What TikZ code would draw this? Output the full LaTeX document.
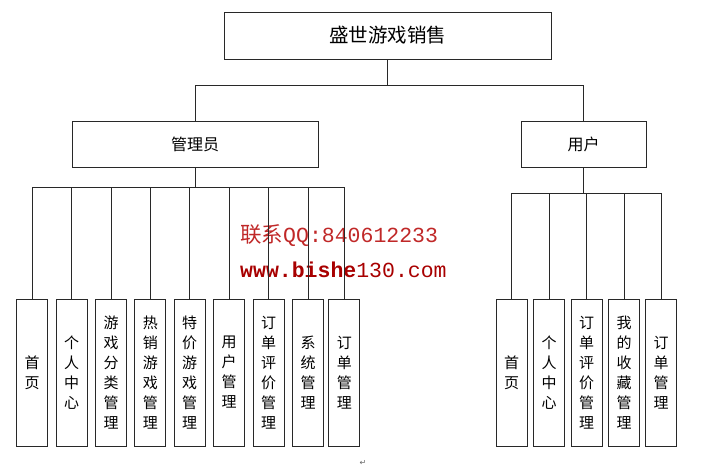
\documentclass[tikz,border=0pt]{standalone}
\usepackage{fontspec}
\newfontfamily\cjk{Noto Sans CJK SC}
\newfontfamily\wmono{Liberation Mono}
\newfontfamily\symf{DejaVu Sans}
\definecolor{wmred}{RGB}{192,40,40}
\definecolor{wmdark}{RGB}{168,0,0}
\definecolor{linec}{RGB}{40,40,40}
\begin{document}
\begin{tikzpicture}[x=1pt,y=-1pt,
  box/.style={draw=linec,line width=0.9pt,fill=white,inner sep=0pt},
  topbox/.style={box,minimum width=327pt,minimum height=47pt,font=\cjk\fontsize{19.5}{22}\selectfont},
  midbox/.style={box,minimum height=46pt,font=\cjk\fontsize{16}{18}\selectfont},
  leaf/.style={box,minimum width=31pt,minimum height=147pt,align=center,font=\cjk\fontsize{15}{20}\selectfont},
  conn/.style={draw=linec,line width=0.8pt}]
\useasboundingbox (0,0) rectangle (705,475);
% watermark
\node[anchor=west,inner sep=0pt,text=wmred] (wm1) at (240,236) {\cjk\fontsize{21.5}{24}\selectfont 联系\wmono QQ:840612233};
\node[anchor=west,inner sep=0pt,text=wmdark] (wm2) at (240,270) {\wmono\fontsize{21.5}{24}\selectfont\bfseries www.bishe\mdseries 130.com};
% nodes
\node[topbox] (top) at (387.5,35.5) {盛世游戏销售};
\node[midbox,minimum width=246pt] (admin) at (195,144) {管理员};
\node[midbox,minimum width=125pt] (user) at (583.5,144) {用户};
\coordinate (tbus) at (387.5,85);
\coordinate (abus) at (195,187);
\coordinate (ubus) at (583.5,193);
\node[leaf] (a1) at (32.2,372.5) {首\\页};
\node[leaf] (a2) at (71.5,372.5) {个\\人\\中\\心};
\node[leaf] (a3) at (111,372.5) {游\\戏\\分\\类\\管\\理};
\node[leaf] (a4) at (150.4,372.5) {热\\销\\游\\戏\\管\\理};
\node[leaf] (a5) at (189.7,372.5) {特\\价\\游\\戏\\管\\理};
\node[leaf] (a6) at (229.2,372.5) {用\\户\\管\\理};
\node[leaf] (a7) at (268.7,372.5) {订\\单\\评\\价\\管\\理};
\node[leaf] (a8) at (308,372.5) {系\\统\\管\\理};
\node[leaf] (a9) at (344.4,372.5) {订\\单\\管\\理};
\node[leaf] (u1) at (511.7,372.5) {首\\页};
\node[leaf] (u2) at (549,372.5) {个\\人\\中\\心};
\node[leaf] (u3) at (586.5,372.5) {订\\单\\评\\价\\管\\理};
\node[leaf] (u4) at (624,372.5) {我\\的\\收\\藏\\管\\理};
\node[leaf] (u5) at (661.2,372.5) {订\\单\\管\\理};
% connectors
\draw[conn] (top.south) -- (tbus);
\draw[conn] (tbus) -| (admin.north);
\draw[conn] (tbus) -| (user.north);
\draw[conn] (admin.south) -- (abus);
\foreach \n in {a1,a2,a3,a4,a5,a6,a7,a8,a9} \draw[conn] (abus) -| (\n.north);
\draw[conn] (user.south) -- (ubus);
\foreach \n in {u1,u2,u3,u4,u5} \draw[conn] (ubus) -| (\n.north);
% return mark
\node[inner sep=0pt,text=black!60,font=\symf\fontsize{8}{8}\selectfont] (ret) at (363,463) {↵};
\end{tikzpicture}
\end{document}
